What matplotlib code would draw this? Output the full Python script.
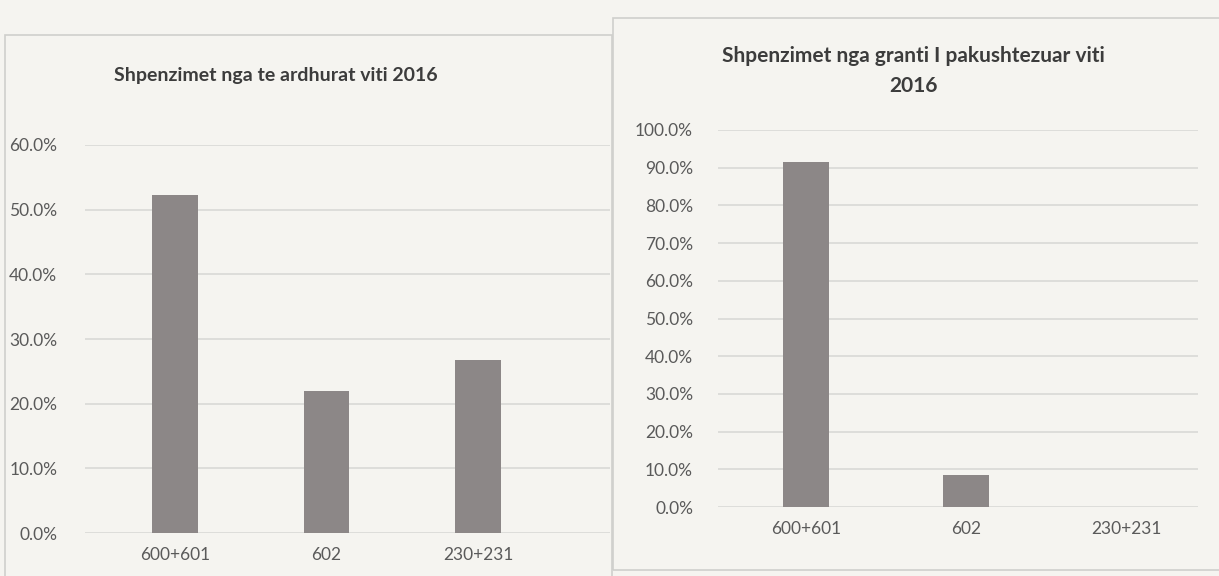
import matplotlib.pyplot as plt
from matplotlib.patches import Rectangle
from matplotlib.ticker import PercentFormatter

# data
categories = ['600+601', '602', '230+231']
left_values = [52.2, 22.0, 26.8]
right_values = [91.5, 8.5, 0.0]
left_title = 'Shpenzimet nga te ardhurat viti 2016'
right_title = 'Shpenzimet nga granti I pakushtezuar viti\n2016'

paper = '#f5f4f0'
bar_col = '#8c8787'
text_col = '#5a5a5a'
grid_col = '#d6d6d4'

plt.rcParams['font.family'] = ['Lato', 'DejaVu Sans']

fig = plt.figure(figsize=(12.19, 5.76), dpi=100)
fig.patch.set_facecolor(paper)

# chart frames
fig.add_artist(Rectangle((5 / 1219, -0.01), 607 / 1219, 1 - 35 / 576 + 0.01,
                         transform=fig.transFigure, fill=False,
                         edgecolor='#cfcfcc', lw=1.2))
fig.add_artist(Rectangle((613 / 1219, 6 / 576), 610 / 1219, 1 - 24 / 576,
                         transform=fig.transFigure, fill=False,
                         edgecolor='#cfcfcc', lw=1.2))


def draw(ax, values, ymax, step, xlim, width):
    x = range(len(categories))
    ax.bar(x, values, width=width, color=bar_col, zorder=3)
    ax.set_ylim(0, ymax)
    ax.set_xlim(*xlim)
    ax.set_yticks([i * step for i in range(int(ymax / step) + 1)])
    ax.yaxis.set_major_formatter(PercentFormatter(decimals=1))
    ax.set_xticks(list(x))
    ax.set_xticklabels(categories)
    ax.grid(axis='y', color=grid_col, lw=1.1, zorder=0)
    ax.set_facecolor('none')
    for s in ax.spines.values():
        s.set_visible(False)
    ax.tick_params(length=0, colors=text_col, labelsize=12.5)
    ax.tick_params(axis='y', pad=20)
    ax.tick_params(axis='x', pad=10)


# left chart
ax1 = fig.add_axes([85 / 1219, 1 - 533 / 576, 525 / 1219, (533 - 145) / 576])
draw(ax1, left_values, 60, 10, (-0.594, 2.87), 0.3)
fig.text(276 / 1219, 1 - 76 / 576, left_title, ha='center', va='center',
         fontsize=14, fontweight='bold', color='#3c3c3c')

# right chart
ax2 = fig.add_axes([718 / 1219, 1 - 507 / 576, 480 / 1219, (507 - 130) / 576])
draw(ax2, right_values, 100, 10, (-0.55, 2.45), 0.29)
ax2.tick_params(axis='y', pad=18)
fig.text(913 / 1219, 1 - 71 / 576, right_title, ha='center', va='center',
         fontsize=15, fontweight='bold', color='#3c3c3c', linespacing=1.6)

fig.savefig('out.png', dpi=100, facecolor=fig.get_facecolor())
